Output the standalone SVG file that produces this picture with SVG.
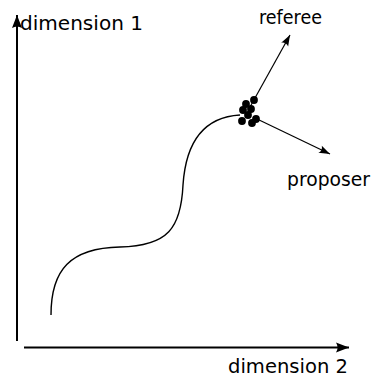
<svg xmlns="http://www.w3.org/2000/svg" width="373" height="378" viewBox="0 0 373 378">
<style>
.lbl{font-family:"DejaVu Sans",sans-serif;font-size:19px;fill:#000}
.axis{stroke:#000;stroke-width:2;fill:none}
.arr{stroke:#000;stroke-width:1.2;fill:none}
.curve{stroke:#000;stroke-width:1.4;fill:none}
.dot{fill:#000}
</style>
<defs>
<marker id="bigHead" markerUnits="userSpaceOnUse" viewBox="-14 -6 15 12" refX="0" refY="0" markerWidth="15" markerHeight="12" orient="auto">
<path d="M0,0 L-13,-5 Q-10,0 -13,5 Z" fill="#000"/>
</marker>
<marker id="smallHead" markerUnits="userSpaceOnUse" viewBox="-12 -5 13 10" refX="0" refY="0" markerWidth="13" markerHeight="10" orient="auto">
<path d="M0,0 L-11,-4 Q-8,0 -11,4 Z" fill="#000"/>
</marker>
</defs>
<g id="connectors">
<line class="axis" x1="17" y1="341" x2="17" y2="15" marker-end="url(#bigHead)"/>
<line class="axis" x1="24" y1="347.5" x2="349" y2="347.5" marker-end="url(#bigHead)"/>
<path class="curve" d="M51,315 C51,270 70,248 120,247 C168,246 181,228 183,185 C186,140 205,117 240,115"/>
<line class="arr" x1="250" y1="107" x2="290" y2="35" marker-end="url(#smallHead)"/>
<line class="arr" x1="255" y1="118" x2="330" y2="154" marker-end="url(#smallHead)"/>
</g>
<g id="cluster">
<circle class="dot" cx="254" cy="100" r="3.9"/>
<circle class="dot" cx="246" cy="104" r="3.9"/>
<circle class="dot" cx="251" cy="109" r="3.9"/>
<circle class="dot" cx="243" cy="110" r="3.9"/>
<circle class="dot" cx="248" cy="115" r="3.9"/>
<circle class="dot" cx="242" cy="121" r="3.9"/>
<circle class="dot" cx="252" cy="123" r="3.9"/>
<circle class="dot" cx="256" cy="119" r="3.9"/>
</g>
<g id="label-dim1"><text class="lbl" x="20" y="30" textLength="123" lengthAdjust="spacingAndGlyphs">dimension 1</text></g>
<g id="label-dim2"><text class="lbl" x="228" y="373" textLength="120" lengthAdjust="spacingAndGlyphs">dimension 2</text></g>
<g id="label-referee"><text class="lbl" x="259" y="24" textLength="63" lengthAdjust="spacingAndGlyphs">referee</text></g>
<g id="label-proposer"><text class="lbl" x="287" y="186" textLength="83" lengthAdjust="spacingAndGlyphs">proposer</text></g>
</svg>
